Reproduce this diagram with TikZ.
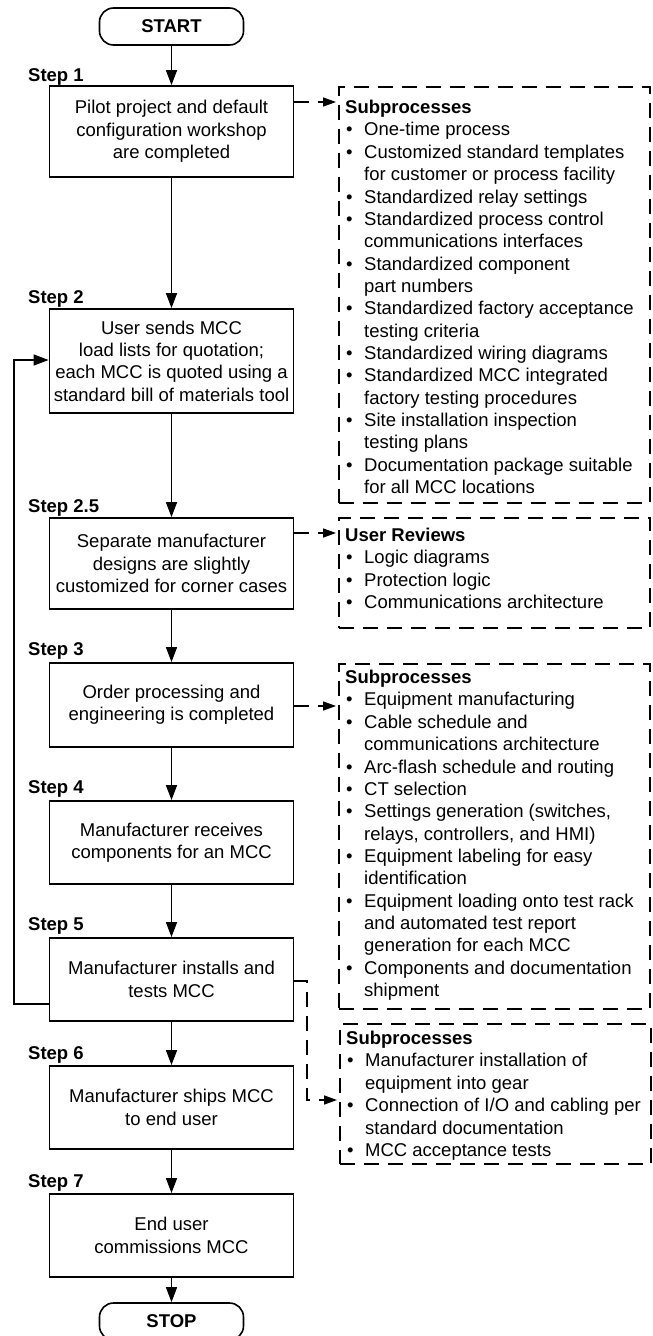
\documentclass[tikz,border=0pt]{standalone}
\usepackage{fontspec}
\setmainfont{Liberation Sans}
\usetikzlibrary{arrows.meta}
% bullet item and continuation line for the subprocess lists
\newcommand{\bitem}[1]{\makebox[19pt][l]{\hspace{1pt}\textbullet}#1}
\newcommand{\citem}[1]{\hspace*{19pt}#1}
\begin{document}
\begin{tikzpicture}[x=1pt,y=-1pt,
  font=\fontsize{18.5}{22.35}\selectfont,
  stepbox/.style={draw, line width=1.8pt, minimum width=244pt, inner sep=0pt, align=center},
  term/.style={draw, line width=1.6pt, rounded corners=14pt, minimum width=144pt,
    minimum height=37pt, inner sep=0pt, font=\fontsize{18.5}{22.35}\selectfont\bfseries},
  steplabel/.style={anchor=base west, inner sep=0pt, font=\fontsize{18.5}{22.35}\selectfont\bfseries},
  subbox/.style={draw, line width=1.8pt, dash pattern=on 15pt off 9pt, minimum width=311pt,
    inner sep=0pt, anchor=north west},
  subtext/.style={anchor=north west, inner sep=0pt, align=left},
  arr/.style={line width=1.4pt, -{Triangle[length=15pt,width=11pt]}},
  darr/.style={line width=1.4pt, dash pattern=on 15pt off 9pt,
    -{Triangle[length=13pt,width=9pt]}, shorten >=2pt},
]
\useasboundingbox (0,0) rectangle (653,1336);
\clip (0,0) rectangle (653,1336);

% main flow
\node[term] (start) at (171.5,26.5) {START};
\node[stepbox, minimum height=91pt]  (b1)  at (171.5,131.5) {Pilot project and default\\configuration workshop\\are completed};
\node[stepbox, minimum height=104pt] (b2)  at (171.5,361)   {User sends MCC\\load lists for quotation;\\each MCC is quoted using a\\standard bill of materials tool};
\node[stepbox, minimum height=91pt]  (b25) at (171.5,563.5) {Separate manufacturer\\designs are slightly\\customized for corner cases};
\node[stepbox, minimum height=84pt]  (b3)  at (171.5,705)   {Order processing and\\engineering is completed};
\node[stepbox, minimum height=83pt]  (b4)  at (171.5,842.5) {Manufacturer receives\\components for an MCC};
\node[stepbox, minimum height=83pt]  (b5)  at (171.5,979.5) {Manufacturer installs and\\tests MCC};
\node[stepbox, minimum height=83pt]  (b6)  at (171.5,1107.5){Manufacturer ships MCC\\to end user};
\node[stepbox, minimum height=83pt]  (b7)  at (171.5,1235.5){End user\\commissions MCC};
\node[term] (stop) at (171.5,1321.5) {STOP};

% step labels
\node[steplabel] (l1)  at (28,81)   {Step 1};
\node[steplabel] (l2)  at (28,303)  {Step 2};
\node[steplabel] (l25) at (28,512)  {Step 2.5};
\node[steplabel] (l3)  at (28,655)  {Step 3};
\node[steplabel] (l4)  at (28,793)  {Step 4};
\node[steplabel] (l5)  at (28,930)  {Step 5};
\node[steplabel] (l6)  at (28,1059) {Step 6};
\node[steplabel] (l7)  at (28,1187) {Step 7};

\draw[arr] (start) -- (b1);
\draw[arr] (b1) -- (b2);
\draw[arr] (b2) -- (b25);
\draw[arr] (b25) -- (b3);
\draw[arr] (b3) -- (b4);
\draw[arr] (b4) -- (b5);
\draw[arr] (b5) -- (b6);
\draw[arr] (b6) -- (b7);
\draw[arr] (b7) -- (stop);

% loop back from step 5 to step 2
\coordinate (fbTop) at (14,360);
\coordinate (fbBot) at (14,1004);
\draw[arr] (b5.west |- fbBot) -- (fbBot) -- (fbTop) -- (b2.west |- fbTop);

% subprocess panels
\node[subbox, minimum height=416pt] (s1) at (338,86) {};
\node[subtext] (s1t) at (345,100) {\textbf{Subprocesses}\\
\bitem{One-time process}\\
\bitem{Customized standard templates}\\
\citem{for customer or process facility}\\
\bitem{Standardized relay settings}\\
\bitem{Standardized process control}\\
\citem{communications interfaces}\\
\bitem{Standardized component}\\
\citem{part numbers}\\
\bitem{Standardized factory acceptance}\\
\citem{testing criteria}\\
\bitem{Standardized wiring diagrams}\\
\bitem{Standardized MCC integrated}\\
\citem{factory testing procedures}\\
\bitem{Site installation inspection}\\
\citem{testing plans}\\
\bitem{Documentation package suitable}\\
\citem{for all MCC locations}};

\node[subbox, minimum height=110pt] (s2) at (338,517) {};
\node[subtext] (s2t) at (345,528) {\textbf{User Reviews}\\
\bitem{Logic diagrams}\\
\bitem{Protection logic}\\
\bitem{Communications architecture}};

\node[subbox, minimum height=345pt] (s3) at (338,663) {};
\node[subtext] (s3t) at (345,670) {\textbf{Subprocesses}\\
\bitem{Equipment manufacturing}\\
\bitem{Cable schedule and}\\
\citem{communications architecture}\\
\bitem{Arc-flash schedule and routing}\\
\bitem{CT selection}\\
\bitem{Settings generation (switches,}\\
\citem{relays, controllers, and HMI)}\\
\bitem{Equipment labeling for easy}\\
\citem{identification}\\
\bitem{Equipment loading onto test rack}\\
\citem{and automated test report}\\
\citem{generation for each MCC}\\
\bitem{Components and documentation}\\
\citem{shipment}};

\node[subbox, minimum height=140pt] (s4) at (339,1023) {};
\node[subtext] (s4t) at (346,1031) {\textbf{Subprocesses}\\
\bitem{Manufacturer installation of}\\
\citem{equipment into gear}\\
\bitem{Connection of I/O and cabling per}\\
\citem{standard documentation}\\
\bitem{MCC acceptance tests}};

% dashed links to the panels
\coordinate (t1) at (338,102);
\coordinate (t2) at (338,533);
\coordinate (t3) at (338,706);
\coordinate (k5) at (307,981);
\coordinate (k6) at (307,1100);
\coordinate (t4) at (339,1100);
\draw[darr] (b1.east |- t1) -- (t1);
\draw[darr] (b25.east |- t2) -- (t2);
\draw[darr] (b3.east |- t3) -- (t3);
\draw[darr] (b5.east |- k5) -- (k5) -- (k6) -- (t4);
\end{tikzpicture}
\end{document}
